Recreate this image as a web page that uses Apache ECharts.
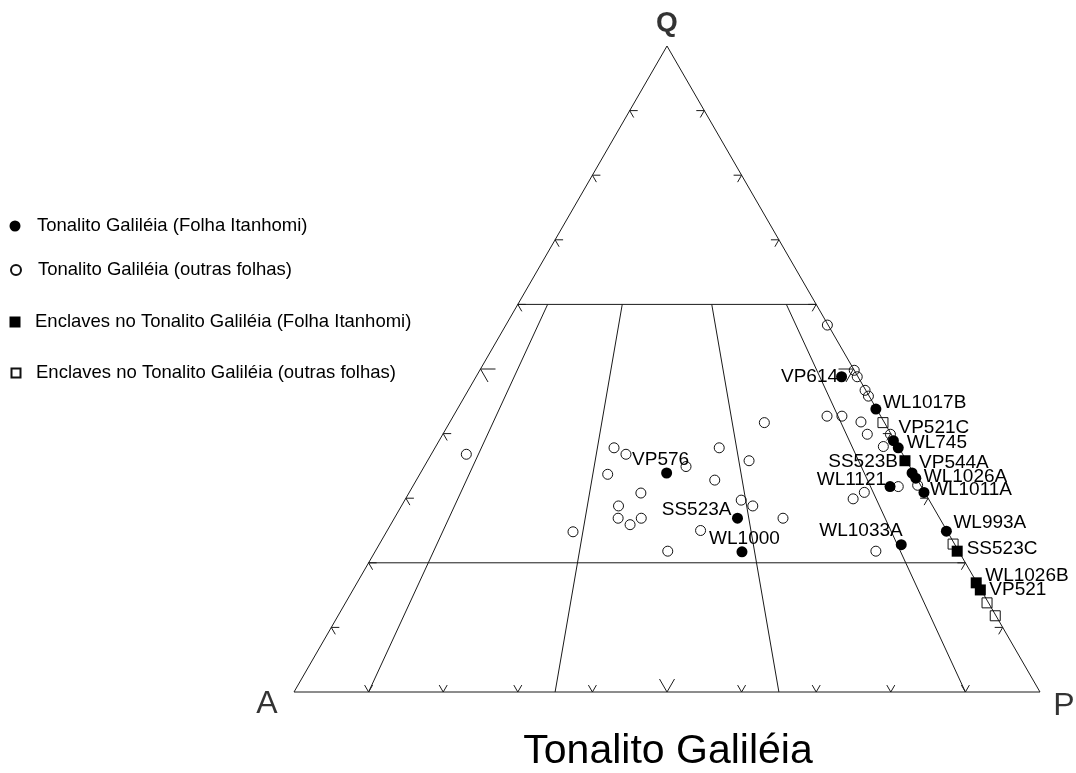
<!DOCTYPE html>
<html>
<head>
<meta charset="utf-8">
<script src="https://cdn.jsdelivr.net/npm/echarts@6/dist/echarts.min.js"></script>
<style>
  html, body { margin: 0; padding: 0; background: #fff; }
  #chart { width: 1076px; height: 773px; }
</style>
</head>
<body>
<div id="chart"></div>
<script>
const FONT = '"Liberation Sans", Arial, Helvetica, sans-serif';

// ---- Samples, each row is [Q, A, P] in percent ----
const itanhomiNames = ['VP614', 'WL1017B', '', 'WL745', 'VP544A', 'WL1026A', 'WL1011A',
  'WL1121', 'WL993A', 'WL1033A', 'VP576', 'SS523A', 'WL1000'];
const itanhomiQAP = [
  [48.8, 2.2, 49.0], [43.8, 0.1, 56.1], [38.9, 0.2, 60.9], [37.8, 0.1, 62.1],
  [33.9, 0.2, 65.9], [33.1, 0.1, 66.8], [30.9, 0.1, 69.0], [31.8, 4.2, 64.0],
  [24.9, 0.1, 75.0], [22.8, 7.2, 70.0], [33.9, 33.1, 33.0], [26.9, 27.1, 46.0],
  [21.7, 29.1, 49.2]
];

const outrasQAP = [
  [56.8, 0.1, 43.1], [49.8, 0.0, 50.2], [48.8, 0.1, 51.1], [46.7, 0.1, 53.2],
  [45.8, 0.1, 54.1], [42.7, 7.2, 50.1], [42.7, 5.2, 52.1], [41.8, 3.1, 55.1],
  [39.9, 3.2, 56.9], [39.9, 0.1, 60.0], [38.0, 2.0, 60.0], [31.8, 3.1, 65.1],
  [30.9, 8.1, 61.0], [29.9, 10.1, 60.0], [32.0, 0.4, 67.6], [21.8, 11.1, 67.1],
  [36.8, 58.5, 4.7], [37.8, 38.2, 24.0], [36.8, 37.1, 26.1], [33.7, 41.1, 25.2],
  [34.9, 30.0, 35.1], [37.8, 24.1, 38.1], [41.7, 16.1, 42.2], [35.8, 21.1, 43.1],
  [32.8, 27.2, 40.0], [30.8, 38.1, 31.1], [28.8, 42.1, 29.1], [26.9, 43.1, 30.0],
  [25.9, 42.0, 32.1], [26.9, 40.0, 33.1], [24.8, 50.2, 25.0], [29.7, 25.2, 45.1],
  [28.8, 24.1, 47.1], [26.9, 21.0, 52.1], [25.0, 33.0, 42.0], [21.8, 39.0, 39.2]
];

const enclaveItanhomiNames = ['SS523B', 'SS523C', 'WL1026B', 'VP521'];
const enclaveItanhomiQAP = [
  [35.8, 0.2, 64.0], [21.8, 0.2, 78.0], [16.9, 0.1, 83.0], [15.8, 0.1, 84.1]
];

const enclaveOutrasNames = ['VP521C', '', '', ''];
const enclaveOutrasQAP = [
  [41.7, 0.2, 58.1], [22.9, 0.2, 76.9], [13.8, 0.2, 86.0], [11.8, 0.1, 88.1]
];

const seriesNames = [
  'Tonalito Galiléia (Folha Itanhomi)',
  'Tonalito Galiléia (outras folhas)',
  'Enclaves no Tonalito Galiléia (Folha Itanhomi)',
  'Enclaves no Tonalito Galiléia (outras folhas)'
];

// Streckeisen QAP frame: triangle, Q = 60 and Q = 20 lines,
// and P/(A+P) = 10, 35, 65, 90 dividers, as [Q, A, P] endpoints
const fieldLines = [
  [[100, 0, 0], [0, 100, 0]],
  [[100, 0, 0], [0, 0, 100]],
  [[0, 100, 0], [0, 0, 100]],
  [[60, 40, 0], [60, 0, 40]],
  [[20, 80, 0], [20, 0, 80]],
  [[60, 36, 4], [0, 90, 10]],
  [[60, 26, 14], [0, 65, 35]],
  [[60, 14, 26], [0, 35, 65]],
  [[60, 4, 36], [0, 10, 90]]
];

const tickPercents = [10, 20, 30, 40, 50, 60, 70, 80, 90];
const majorTick = 50;

const vertexNames = ['Q', 'A', 'P'];
const vertexQAP = [[100, 0, 0], [0, 100, 0], [0, 0, 100]];

const chartTitle = 'Tonalito Galiléia';

// ---- Label placement: [align, dx, dy] in px from the mark centre ----
const labelPlacement = {
  'VP614':   ['right', -3.5, 0],
  'WL1017B': ['left', 7, -6],
  'WL745':   ['left', 8.5, -5.5],
  'VP544A':  ['left', 7, -10],
  'WL1026A': ['left', 8, -1.5],
  'WL1011A': ['left', 6, -2.5],
  'WL1121':  ['right', -4, -7],
  'WL993A':  ['left', 7, -8.5],
  'WL1033A': ['right', 1.5, -13.5],
  'VP576':   ['center', -6, -13.5],
  'SS523A':  ['right', -6, -8.5],
  'WL1000':  ['center', 2.5, -13.5],
  'SS523B':  ['right', -7, 1.5],
  'SS523C':  ['left', 9.5, -2.5],
  'WL1026B': ['left', 9, -7.5],
  'VP521':   ['left', 9, 0],
  'VP521C':  ['left', 15.5, 5.5]
};

const H = Math.sqrt(3) / 2;
// ternary [Q, A, P] -> cartesian (A at origin, P at x = 1, Q at the apex)
function toXY(qap) {
  const s = qap[0] + qap[1] + qap[2];
  const q = qap[0] / s, p = qap[2] / s;
  return [p + q / 2, q * H];
}

function pointItems(names, rows) {
  return rows.map((r, i) => {
    const name = names ? names[i] : '';
    const item = { name: name, value: toXY(r) };
    const lp = labelPlacement[name];
    if (lp) {
      item.label = {
        show: true, position: 'inside', formatter: '{b}',
        align: lp[0], verticalAlign: 'middle', offset: [lp[1], lp[2]],
        color: '#000', fontSize: 19, fontFamily: FONT, textBorderWidth: 0
      };
    }
    return item;
  });
}

const lineColor = '#1a1a1a';

const frameData = fieldLines.map(s => toXY(s[0]).concat(toXY(s[1])));

// chevron ticks: [x, y, edge, isMajor]; edge 0 = A-P, 1 = A-Q, 2 = P-Q
const tickData = [];
tickPercents.forEach(t => {
  const major = t === majorTick ? 1 : 0;
  tickData.push(toXY([0, 100 - t, t]).concat([0, major]));
  tickData.push(toXY([t, 100 - t, 0]).concat([1, major]));
  tickData.push(toXY([t, 0, 100 - t]).concat([2, major]));
});
// inward normal direction of each edge, screen degrees
const edgeNormalDeg = [-90, 30, 150];

const chart = echarts.init(document.getElementById('chart'), null, { renderer: 'canvas' });

const legendLayout = [
  { top: 216, left: 9.5, size: 11, pad: 11.5 },
  { top: 260, left: 10, size: 10, pad: 12 },
  { top: 312, left: 9.5, size: 11, pad: 9.5 },
  { top: 363, left: 10.5, size: 9, pad: 10.5 }
];

const openStyle = { color: 'rgba(0,0,0,0)', borderColor: '#111', borderWidth: 1, opacity: 1 };
const solidStyle = { color: '#000', opacity: 1 };

const option = {
  animation: false,
  backgroundColor: '#fff',
  grid: { left: 294, right: 36, top: 46, bottom: 81, show: false },
  xAxis: { type: 'value', min: 0, max: 1, show: false },
  yAxis: { type: 'value', min: 0, max: H, show: false },
  legend: seriesNames.map((name, i) => ({
    data: [name],
    orient: 'vertical',
    left: legendLayout[i].left,
    top: legendLayout[i].top,
    padding: 0,
    itemWidth: legendLayout[i].size,
    itemHeight: legendLayout[i].size,
    selectedMode: false,
    textStyle: {
      fontFamily: FONT, fontSize: 18.5, color: '#000', lineHeight: 20,
      padding: [0, 0, 0, legendLayout[i].pad]
    }
  })),
  graphic: [{
    type: 'text', x: 668, y: 752, silent: true,
    style: {
      text: chartTitle, fontFamily: FONT, fontSize: 41, fill: '#000',
      textAlign: 'center', textVerticalAlign: 'middle'
    }
  }],
  series: [
    {
      type: 'custom', name: 'frame', silent: true, clip: false, z: 1,
      data: frameData,
      renderItem: (params, api) => {
        const a = api.coord([api.value(0), api.value(1)]);
        const b = api.coord([api.value(2), api.value(3)]);
        return {
          type: 'line',
          shape: { x1: a[0], y1: a[1], x2: b[0], y2: b[1] },
          style: { stroke: lineColor, lineWidth: 1 }
        };
      }
    },
    {
      type: 'custom', name: 'ticks', silent: true, clip: false, z: 1,
      data: tickData,
      renderItem: (params, api) => {
        const tip = api.coord([api.value(0), api.value(1)]);
        const n = edgeNormalDeg[api.value(2)] * Math.PI / 180;
        const len = api.value(3) ? 15 : 8;
        const d = Math.PI / 6;
        return {
          type: 'polyline',
          shape: {
            points: [
              [tip[0] + len * Math.cos(n - d), tip[1] + len * Math.sin(n - d)],
              tip,
              [tip[0] + len * Math.cos(n + d), tip[1] + len * Math.sin(n + d)]
            ]
          },
          style: { stroke: lineColor, lineWidth: 1, fill: null }
        };
      }
    },
    {
      type: 'scatter', name: 'vertices', silent: true, clip: false,
      symbolSize: 0,
      data: vertexNames.map((v, i) => ({ name: v, value: toXY(vertexQAP[i]) })),
      label: {
        show: true, position: 'inside', formatter: '{b}', color: '#000',
        fontFamily: FONT, align: 'center', verticalAlign: 'middle', textBorderWidth: 0
      }
    },
    {
      type: 'scatter', name: seriesNames[1], clip: false, z: 3,
      symbol: 'circle', symbolSize: 10,
      itemStyle: openStyle,
      data: pointItems(null, outrasQAP)
    },
    {
      type: 'scatter', name: seriesNames[3], clip: false, z: 3,
      symbol: 'rect', symbolSize: 10,
      itemStyle: openStyle,
      data: pointItems(enclaveOutrasNames, enclaveOutrasQAP)
    },
    {
      type: 'scatter', name: seriesNames[0], clip: false, z: 4,
      symbol: 'circle', symbolSize: 11,
      itemStyle: solidStyle,
      data: pointItems(itanhomiNames, itanhomiQAP)
    },
    {
      type: 'scatter', name: seriesNames[2], clip: false, z: 4,
      symbol: 'rect', symbolSize: 11,
      itemStyle: solidStyle,
      data: pointItems(enclaveItanhomiNames, enclaveItanhomiQAP)
    }
  ]
};

// vertex label sizes and offsets
const vertexLabelStyle = {
  Q: { fontSize: 28, fontWeight: 'bold', offset: [0, -23] },
  A: { fontSize: 32, fontWeight: 'normal', offset: [-27, 12] },
  P: { fontSize: 32, fontWeight: 'normal', offset: [24, 14] }
};
option.series[2].data.forEach(d => {
  const s = vertexLabelStyle[d.name];
  d.label = { fontSize: s.fontSize, fontWeight: s.fontWeight, offset: s.offset };
});

chart.setOption(option);
</script>
</body>
</html>
